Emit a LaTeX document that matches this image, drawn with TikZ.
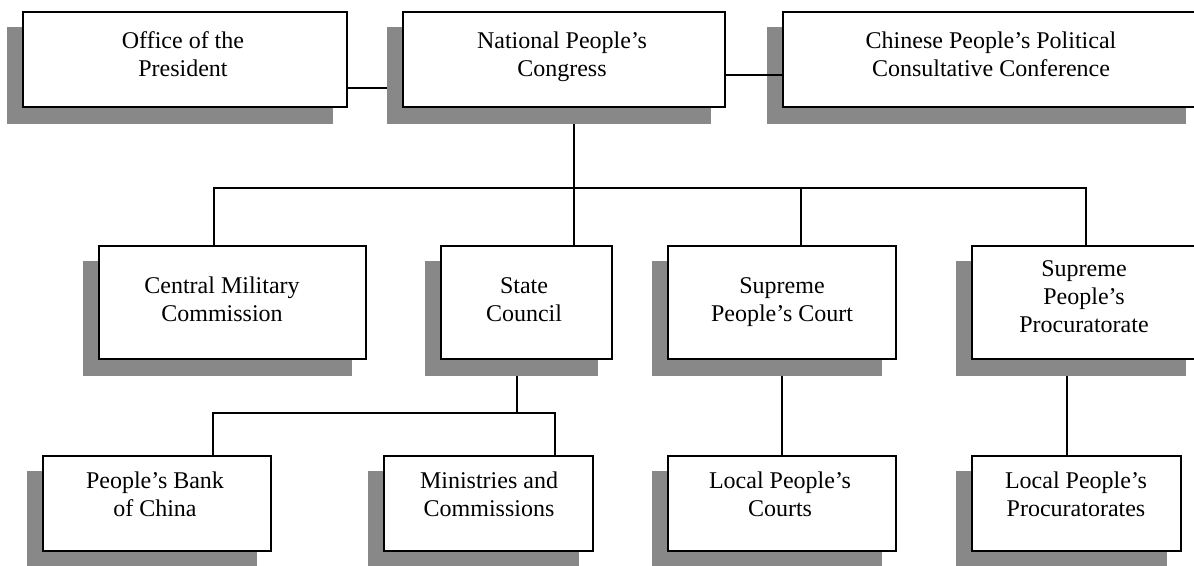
\documentclass[tikz,border=0pt]{standalone}
\usepackage{fontspec}
\setmainfont{Liberation Serif}
\definecolor{shadowgray}{RGB}{136,136,136}
\pgfdeclarelayer{lines}
\pgfdeclarelayer{shadows}
\pgfsetlayers{lines,shadows,main}
\newcommand\orgunit[8]{%
  \node[orgbox, minimum width={#4-#2}, minimum height={#5-#3}] (#1) at ({(#2+#4)/2},{(#3+#5)/2}) {};
  \begin{pgfonlayer}{shadows}
    \fill[shadowbox] ([xshift=-16pt,yshift=-14.5pt]#1.north west) rectangle ([xshift=-14.5pt,yshift=-16.5pt]#1.south east);
  \end{pgfonlayer}
  \node[orgtext] (#1-text) at (#6,{#7-16.3}) {#8};
}
\begin{document}
\begin{tikzpicture}[x=1pt,y=-1pt,
  shadowbox/.style={fill=shadowgray},
  orgbox/.style={draw=black, line width=1.8pt, fill=white, inner sep=0pt, outer sep=0pt},
  orgtext/.style={anchor=north, align=center, inner sep=0pt, font=\fontsize{24}{27.8}\selectfont},
  link/.style={draw=black, line width=1.8pt}]
\useasboundingbox (0,0) rectangle (1194,565);
\clip (0,0) rectangle (1194,565);
% row 1
\orgunit{office}{23}{12}{347}{107}{183}{48}{Office of the\\President}
\orgunit{npc}{403}{12}{725}{107}{562}{48}{National People’s\\Congress}
\orgunit{cppcc}{783}{12}{1200}{107}{991}{48}{Chinese People’s Political\\Consultative Conference}
% row 2
\orgunit{cmc}{99}{246}{366}{359}{222}{293}{Central Military\\Commission}
\orgunit{sc}{441}{246}{612}{359}{524}{294}{State\\Council}
\orgunit{spc}{668}{246}{896}{359}{782}{294}{Supreme\\People’s Court}
\orgunit{spp}{972}{246}{1200}{359}{1084}{277}{Supreme\\People’s\\Procuratorate}
% row 3
\orgunit{pbc}{43}{456}{271}{551}{155}{488}{People’s Bank\\of China}
\orgunit{mc}{384}{456}{593}{551}{489}{488}{Ministries and\\Commissions}
\orgunit{lpc}{668}{456}{896}{551}{780}{488}{Local People’s\\Courts}
\orgunit{lpp}{972}{456}{1181}{551}{1076}{488}{Local People’s\\Procuratorates}
% junction coordinates
\coordinate (yA) at (0,88);
\coordinate (yB) at (0,75);
\coordinate (busL) at (214,188);
\coordinate (busN) at (574,188);
\coordinate (busS) at (801,188);
\coordinate (busR) at (1086,188);
\coordinate (lowL) at (213,413);
\coordinate (lowM) at (517,413);
\coordinate (lowR) at (555,413);
\coordinate (xC) at (782,0);
\coordinate (xP) at (1067,0);
\begin{pgfonlayer}{lines}
  \draw[link] (office.east |- yA) -- (npc.west |- yA);
  \draw[link] (npc.south -| busN) -- (sc.north -| busN);
  \draw[link] (cmc.north -| busL) -- (busL) -- (busR) -- (spp.north -| busR);
  \draw[link] (busS) -- (spc.north -| busS);
  \draw[link] (sc.south -| lowM) -- (lowM);
  \draw[link] (pbc.north -| lowL) -- (lowL) -- (lowR) -- (mc.north -| lowR);
  \draw[link] (spc.south -| xC) -- (lpc.north -| xC);
  \draw[link] (spp.south -| xP) -- (lpp.north -| xP);
\end{pgfonlayer}
\draw[link] (npc.east |- yB) -- (cppcc.west |- yB);
\end{tikzpicture}
\end{document}
